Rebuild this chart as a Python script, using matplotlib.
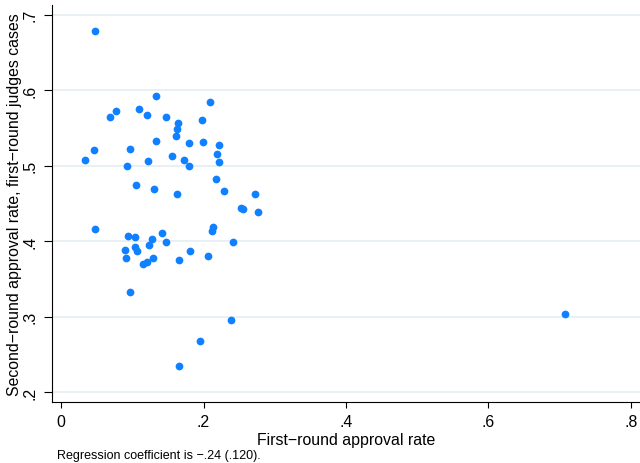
import matplotlib
matplotlib.use("Agg")
import matplotlib.pyplot as plt
from matplotlib.ticker import FuncFormatter

plt.rcParams['font.family'] = ['Liberation Sans', 'DejaVu Sans']

# judges: first-round approval rate vs. second-round approval rate
first_round = [
    0.047, 0.033, 0.046, 0.068, 0.077, 0.110, 0.120, 0.133, 0.148, 0.164,
    0.163, 0.162, 0.133, 0.097, 0.092, 0.122, 0.156, 0.173, 0.180, 0.180,
    0.198, 0.199, 0.209, 0.222, 0.219, 0.222, 0.218, 0.229, 0.273, 0.253,
    0.255, 0.276, 0.105, 0.130, 0.163,
    0.048, 0.094, 0.104, 0.090, 0.091, 0.104, 0.107, 0.115, 0.120, 0.129,
    0.124, 0.128, 0.142, 0.148, 0.097, 0.165, 0.181, 0.206, 0.212, 0.214,
    0.241, 0.239, 0.195, 0.165, 0.707,
]
second_round = [
    0.679, 0.508, 0.521, 0.564, 0.573, 0.575, 0.567, 0.592, 0.564, 0.557,
    0.548, 0.539, 0.533, 0.522, 0.499, 0.506, 0.513, 0.507, 0.500, 0.530,
    0.560, 0.531, 0.585, 0.527, 0.515, 0.505, 0.483, 0.466, 0.463, 0.444,
    0.442, 0.439, 0.475, 0.469, 0.462,
    0.416, 0.407, 0.405, 0.388, 0.378, 0.392, 0.387, 0.369, 0.372, 0.377,
    0.395, 0.403, 0.411, 0.399, 0.333, 0.375, 0.387, 0.380, 0.414, 0.419,
    0.399, 0.296, 0.268, 0.235, 0.303,
]
x_ticks = [0, 0.2, 0.4, 0.6, 0.8]
y_ticks = [0.2, 0.3, 0.4, 0.5, 0.6, 0.7]

fig = plt.figure(figsize=(6.4, 4.64), dpi=100)
ax = fig.add_axes([0.081, 0.132, 0.919, 0.855])

ax.scatter(first_round, second_round, s=31, color='#0f80ff', linewidths=0, zorder=3)

ax.set_xlim(-0.013, 0.813)
ax.set_ylim(0.187, 0.713)

def stata_fmt(v, pos):
    s = ('%g' % round(v, 2))
    return s[1:] if s.startswith('0.') else s

ax.set_xticks(x_ticks)
ax.set_yticks(y_ticks)
ax.xaxis.set_major_formatter(FuncFormatter(stata_fmt))
ax.yaxis.set_major_formatter(FuncFormatter(stata_fmt))
ax.tick_params(axis='x', length=4, width=0.8, pad=5, labelsize=11.4)
ax.tick_params(axis='y', length=6, width=0.8, pad=4, labelsize=11.4)
for lab in ax.get_yticklabels():
    lab.set_rotation(90)
    lab.set_va('center')

ax.grid(axis='y', color='#e7eff2', linewidth=1.3, zorder=0)
ax.grid(axis='x', visible=False)
for side in ['top', 'right']:
    ax.spines[side].set_visible(False)
for side in ['left', 'bottom']:
    ax.spines[side].set_linewidth(0.8)

ax.set_xlabel('First\u2212round approval rate', fontsize=11.4, labelpad=2)
ax.set_ylabel('Second\u2212round approval rate, first\u2212round judges cases', fontsize=11.4, labelpad=1)

fig.text(57 / 640, 1 - 459 / 464, 'Regression coefficient is \u2212.24 (.120).', fontsize=9, ha='left', va='baseline')

fig.savefig('out.png', dpi=100)
